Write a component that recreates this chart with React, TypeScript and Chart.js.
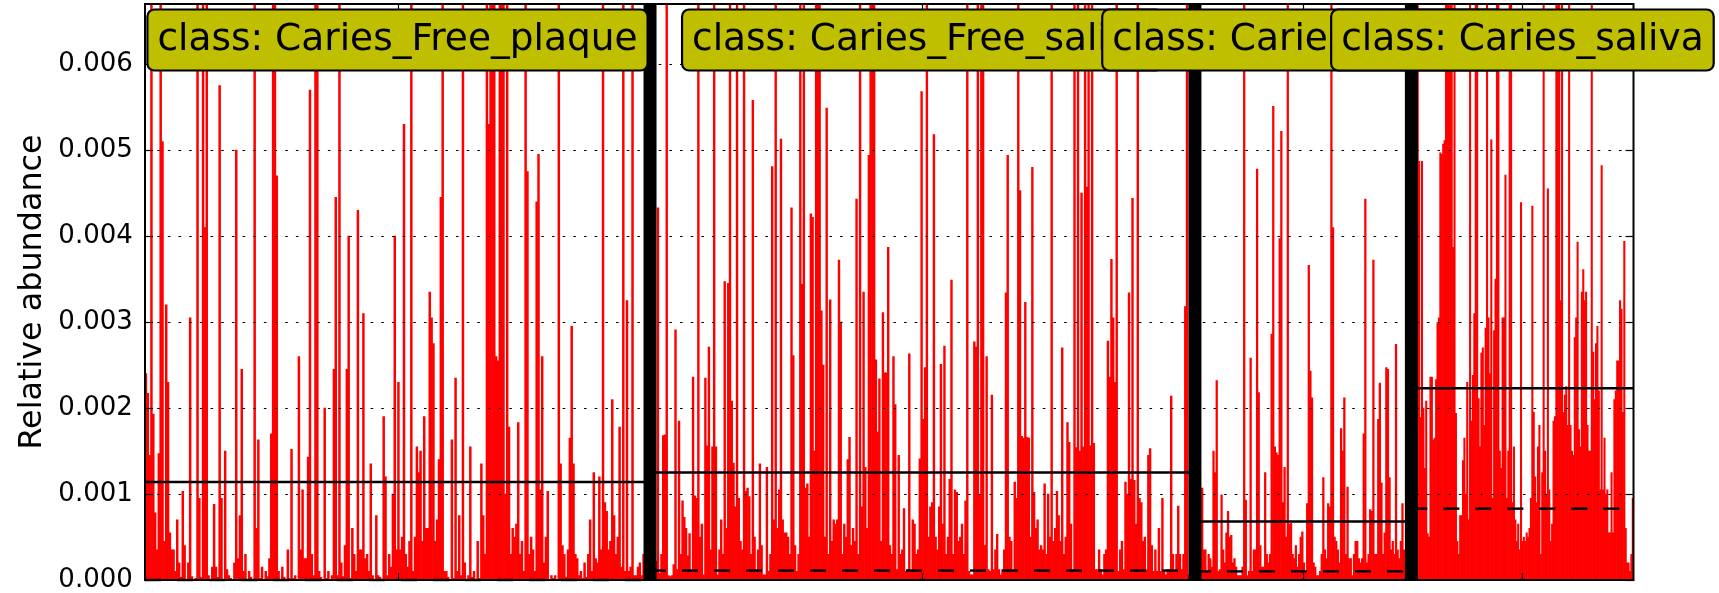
import React, { useEffect, useRef } from "react";
import { Chart, registerables } from "chart.js";

Chart.register(...registerables);

// ---- data ----
const classNames = ["Caries_Free_plaque", "Caries_Free_saliva", "Caries_plaque", "Caries_saliva"];
// width of each class block on the x axis, in sample slots
const classSpans = [266, 287, 114, 117];
const classMeans = [0.00114, 0.00125, 0.00068, 0.00223];
const classMedians = [0, 0.00011, 0.0001, 0.00083];

const yMax = 0.0067;
const yTickValues = [0, 0.001, 0.002, 0.003, 0.004, 0.005, 0.006];
const yTickLabels = ["0.000", "0.001", "0.002", "0.003", "0.004", "0.005", "0.006"];
const yTitle = "Relative abundance";

const cariesFreePlaque = [
  .0024,.00217,.00145,.009,.00193,.00078,.00035,.00147,.009,.0051,
  .00045,.0032,.0023,.00055,.00035,.00035,.0001,.0007,.0002,.00003,
  .00103,.0004,0,.0002,.00305,.00004,0,.00002,.009,.00095,
  .00003,.009,.0041,.009,.00005,0,.00015,.00088,.00015,.00003,
  .00575,.00095,0,.0015,.00012,.00005,.00002,0,.0002,.005,
  .00025,.00075,.00245,.0001,.0003,0,.0001,.00003,0,.009,
  .0006,.00163,.00002,.00015,0,.0001,.00004,.00025,.0017,.009,
  .009,.0047,.0001,0,.00015,.00003,0,.00035,.00002,.00152,
  .00002,.00005,0,.0026,.00035,.00105,.00025,.00025,.00143,.0057,
  .0003,.00005,.009,.009,.0001,.00003,0,.002,.00002,.0001,
  0,.00005,.00245,.00445,.00005,.009,.0002,.00004,.0004,.00245,
  .004,.00002,.0006,.0003,.0001,.0043,.00035,.00035,.0031,.00025,
  .0003,.0001,.00135,.00005,0,.00075,.00005,.00003,0,.0019,
  .0012,.00005,.0003,.00015,.001,.004,.00035,.0023,.00035,.0005,
  .0053,.0003,.00015,.00045,.009,.0001,.0005,.00155,.00125,.0015,
  .00045,.0019,.0006,.0006,.00335,.00305,.00275,.00045,.0007,.0014,
  .00445,.009,.0001,.0001,.00003,0,.00163,.00002,.00235,.0001,
  .00075,.00005,.009,.0002,0,.00005,.00155,.00003,.0001,0,
  .00045,.00002,.00135,.00075,.0003,.009,.0053,.009,.009,.009,
  .0026,.00255,.009,.009,.009,.001,.009,.00178,.0003,.0006,
  .0005,.00065,.00183,.0003,.00045,.0001,.009,.00475,.0003,.0005,
  .00035,.0001,.0044,.00495,.00105,.0026,.0002,.0005,.00103,0,
  .00005,.00002,.00005,0,.009,.00135,.0004,.0003,.00003,.00035,
  .00165,.00295,.00135,.0003,.00025,.00005,.0001,.00002,.0002,.00003,
  .0003,.0007,.0001,.00125,.00025,.0002,.0012,.00035,.009,.0009,
  .0008,.00035,.00045,.0021,.00075,.0003,.0005,.00178,.00015,.009,
  .0001,.00325,.0001,.00015,.009,.00005,.00005,.00015,.0002,.00005,
  .0003,.00005,0,.009,
];

const cariesFreeSaliva = [
  .00012,.00096,.0001,.00022,.00433,.00008,.0003,.00168,.00169,.009,
  .00005,.00004,.00005,.00018,.00291,.00012,.00185,.0003,.00092,.00073,
  .0006,.00028,.00054,.0001,.00236,.00098,.00095,.009,.0005,.00065,
  .00006,.00235,.00156,.00271,.00035,.00155,.009,.00155,.00006,.00035,
  .0007,.0003,.00347,.0006,.00345,.009,.00208,.00136,.00085,.009,
  .00095,.00045,.00035,.009,.00103,.00107,.00097,.0003,.00558,.0005,
  .00012,.00035,.00135,.0004,.00006,.00006,.00131,.0001,.0003,.00481,
  .0007,.009,.0006,.00105,.00513,.0007,.00055,.00055,.0005,.0003,
  .00433,.00261,.0004,.0001,.0003,.009,.00344,.009,.00107,.00112,
  .0005,.00426,.00422,.0015,.009,.009,.009,.00313,.0025,.0005,
  .00549,.0003,.00326,.00045,.0007,.00065,.0007,.00372,.003,.0003,
  .00065,.0005,.0014,.00166,.0004,.0006,.00045,.00443,.0003,.009,
  .00085,.00335,.00131,.0006,.00494,.009,.009,.009,.00256,.00172,
  .00234,.00045,.00311,.00241,.00241,.00387,.0004,.0003,.0026,.00204,
  .00012,.00145,.0003,.00035,.00083,.0001,.00012,.00263,.0001,.0007,
  .00065,.0003,.00035,.00141,.00568,.00187,.00247,.009,.0005,.00085,
  .0009,.00518,.0005,.00035,.00085,.00251,.00065,.00272,.0003,.0005,
  .00117,.00349,.0003,.00105,.00102,.00045,.0005,.00065,.0003,.00092,
  .009,.0001,.00006,.00006,.00277,.00271,.009,.001,.009,.009,
  .0004,.0026,.00012,.0001,.00215,.00012,.00035,.00053,.00012,.00006,
  .00012,.00035,.00334,.00494,.0005,.00045,.00012,.00114,.00095,.009,
  .00453,.00167,.00165,.00323,.00166,.00165,.0005,.0048,.00102,.0006,
  .0007,.00035,.0004,.00035,.00112,.0003,.001,.0005,.009,.00045,
  .0006,.00103,.00075,.00045,.0027,.0003,.0005,.00183,.0016,.00065,
  .00012,.009,.00154,.009,.0015,.0045,.00155,.009,.00457,.009,
  .00156,.009,.00159,.00012,.00012,.00035,.00012,.00006,.0003,.00035,
  .00278,.00236,.00373,.00305,.0023,.009,.0001,.00035,.00045,.00012,
  .00114,.001,.00334,.00117,.00444,.00116,.00065,.009,.00095,.0009,
  .00045,.0005,.00012,.00145,.00153,.0004,.0001,.00035,.0001,.0006,
  .0001,.00095,.0001,.00006,.00012,.00012,.00214,.0003,.0001,.0003,
  .00086,.0003,.00012,.0003,.00318,.009,.00006,.00162,.0036,.0001,
];

const cariesPlaque = [
  .00025,.00005,.00005,.00035,.00107,.00035,.00035,.0001,.0003,.00025,
  .00015,.0015,.00125,.00232,.0001,.00012,.00099,.00035,.0002,.00055,
  .0008,.0005,.00052,.0002,.00025,.00015,.00005,.00005,.00005,.00015,
  .009,.00093,.00005,.0001,.00258,.0001,.00035,.00035,.00478,.00218,
  .0004,.00015,.00015,.00125,.0003,.0002,.0003,.00286,.00551,.00155,
  .00148,.00145,.00397,.00522,.0009,.00131,.0005,.009,.00065,.00066,
  .0003,.00025,.0004,.00015,.0003,.0005,.00056,.0002,.0001,.00089,
  .00366,.00243,.00212,.0002,.00015,.00005,.00005,.0001,.0003,.00119,
  .00035,.00025,.00089,.00085,.009,.0041,.0005,.00045,.00035,.0002,
  .00176,.0015,.00212,.0003,.00108,.00025,.00025,.00005,.0003,.00045,
  .00045,.00025,.0002,.00025,.0017,.00443,.0002,.0003,.00082,.0008,
  .00372,.0003,.0003,.00187,.00229,.00113,.0003,.00055,.00247,.00245,
  .00119,.00035,.00045,.0003,.00274,.00035,.00025,.00045,.00089,.00035,
  .0002,.0002,.0003,.00079,
];

const cariesSaliva = [
  .00015,.0059,.00286,.00287,.009,.00487,.00189,.00487,.002,.0013,
  .00208,.00054,.0005,.00236,.00236,.00163,.00165,.00233,.00299,.00305,
  .00497,.00495,.00507,.00511,.009,.009,.009,.009,.009,.00387,
  .009,.00194,.00045,.0003,.00075,.00075,.00139,.00165,.001,.0023,
  .0007,.009,.00185,.00238,.0031,.009,.009,.00211,.00155,.00264,
  .0027,.0018,.00293,.009,.00305,.0024,.00512,.00095,.0029,.0035,
  .009,.009,.0015,.0013,.00305,.00305,.00471,.00095,.0015,.009,
  .009,.0009,.00155,.0007,.00045,.00065,.00035,.00439,.00045,.0005,
  .00045,.00055,.0005,.0006,.00095,.00435,.00195,.0012,.0009,.00155,
  .0018,.0003,.00125,.009,.0015,.001,.00455,.00105,.00045,.00065,
  .00185,.0019,.009,.009,.009,.00325,.009,.00195,.00215,.00225,
  .0018,.009,.0018,.0015,.00145,.00282,.00305,.00393,.00175,.00155,
  .00335,.00361,.00325,.00335,.0018,.0015,.0015,.009,.00265,.0021,
  .00275,.00295,.0022,.00105,.00482,.00105,.00165,.001,.00105,.00055,
  .00055,.00125,.00055,.0021,.0022,.00255,.00255,.00325,.00315,.00195,
  .00394,.0006,.0002,.0002,.0001,.0003,.00095,
];

const classValues = [cariesFreePlaque, cariesFreeSaliva, cariesPlaque, cariesSaliva];

export default function App() {
  const ref = useRef<HTMLCanvasElement>(null);

  useEffect(() => {
    const canvas = ref.current;
    if (!canvas) return;
    Chart.defaults.font.family = "'DejaVu Sans'";

    const points: { x: number; y: number }[] = [];
    const offsets: number[] = [];
    let off = 0;
    classValues.forEach((vals, c) => {
      offsets.push(off);
      const step = classSpans[c] / vals.length;
      vals.forEach((v, i) => points.push({ x: off + (i + 0.5) * step, y: v }));
      off += classSpans[c];
    });
    const total = off;

    const overlay = {
      id: "lefseOverlay",
      afterDraw(chart: any) {
        const { ctx, chartArea: a, scales } = chart;
        const xs = scales.x;
        const ys = scales.y;
        const seg = (x0: number, y0: number, x1: number, y1: number) => {
          ctx.beginPath();
          ctx.moveTo(x0, y0);
          ctx.lineTo(x1, y1);
          ctx.stroke();
        };
        ctx.save();
        ctx.strokeStyle = "#000";
        // dotted horizontal grid, drawn above the bars
        ctx.lineWidth = 1.2;
        ctx.setLineDash([2.6, 8.07]);
        ctx.lineDashOffset = -1.5;
        yTickValues.forEach((v) => {
          if (v === 0) return;
          const y = Math.round(ys.getPixelForValue(v)) + 0.5;
          seg(a.left, y, a.right, y);
        });
        // class mean (solid) and median (dashed)
        ctx.lineWidth = 2.4;
        offsets.forEach((o, c) => {
          const x0 = xs.getPixelForValue(o);
          const x1 = xs.getPixelForValue(o + classSpans[c]);
          ctx.setLineDash([]);
          const ym = ys.getPixelForValue(classMeans[c]);
          seg(x0, ym, x1, ym);
          ctx.setLineDash([16, 16]);
          ctx.lineDashOffset = 0;
          const yd = ys.getPixelForValue(classMedians[c]);
          seg(x0, yd, x1, yd);
        });
        ctx.setLineDash([]);
        // thick class separators
        ctx.fillStyle = "#000";
        for (let c = 1; c < offsets.length; c++) {
          const xb = xs.getPixelForValue(offsets[c]);
          ctx.fillRect(xb - 6.5, a.top, 13, a.bottom - a.top);
        }
        // frame
        ctx.lineWidth = 2;
        ctx.strokeRect(a.left, a.top, a.right - a.left, a.bottom - a.top);
        // inward ticks
        ctx.lineWidth = 1.2;
        yTickValues.forEach((v) => {
          const y = Math.round(ys.getPixelForValue(v)) + 0.5;
          seg(a.left, y, a.left + 8, y);
          seg(a.right - 8, y, a.right, y);
        });
        offsets.forEach((o, c) => {
          const xm = Math.round(xs.getPixelForValue(o + classSpans[c] / 2)) + 0.5;
          seg(xm, a.bottom, xm, a.bottom - 7);
          seg(xm, a.top, xm, a.top + 7);
        });
        // class labels
        ctx.font = "37.5px 'DejaVu Sans'";
        ctx.textAlign = "center";
        ctx.textBaseline = "alphabetic";
        classNames.forEach((n, c) => {
          const text = "class: " + n;
          const cx = xs.getPixelForValue(offsets[c] + classSpans[c] / 2);
          const w = ctx.measureText(text).width + 20;
          const bx = cx - w / 2;
          const by = a.top + 5.5;
          ctx.beginPath();
          ctx.roundRect(bx, by, w, 61, 7);
          ctx.fillStyle = "#bfbf00";
          ctx.fill();
          ctx.lineWidth = 2.2;
          ctx.strokeStyle = "#000";
          ctx.stroke();
          ctx.fillStyle = "#000";
          ctx.fillText(text, cx, by + 40.5);
        });
        // y-axis title
        ctx.save();
        ctx.translate(41, (a.top + a.bottom) / 2);
        ctx.rotate(-Math.PI / 2);
        ctx.font = "31.8px 'DejaVu Sans'";
        ctx.fillStyle = "#000";
        ctx.textAlign = "center";
        ctx.textBaseline = "alphabetic";
        ctx.fillText(yTitle, 0, 0);
        ctx.restore();
        ctx.restore();
      },
    };

    const chart = new Chart(canvas, {
      type: "bar",
      data: {
        datasets: [
          {
            data: points as any,
            backgroundColor: "#ff0000",
            borderWidth: 0,
            barPercentage: 1,
            categoryPercentage: 1,
            barThickness: "flex",
          } as any,
        ],
      },
      options: {
        animation: false,
        responsive: false,
        events: [],
        layout: { padding: { left: 0, top: 4, right: 85.5, bottom: 13 } },
        plugins: { legend: { display: false }, tooltip: { enabled: false } },
        scales: {
          x: { type: "linear", min: 0, max: total, offset: false, display: false },
          y: {
            min: 0,
            max: yMax,
            afterBuildTicks: (s: any) => {
              s.ticks = yTickValues.map((v) => ({ value: v }));
            },
            afterFit: (s: any) => {
              s.width = 145;
              s.paddingTop = 0;
              s.paddingBottom = 0;
            },
            grid: { display: false, drawTicks: false },
            border: { display: false },
            ticks: {
              padding: 12.2,
              color: "#000",
              font: { family: "'DejaVu Sans'", size: 26 },
              callback: (_v: any, i: number) => yTickLabels[i],
            },
          },
        },
      } as any,
      plugins: [overlay],
    });
    return () => chart.destroy();
  }, []);

  return (
    <div style={{ position: "absolute", left: 0, top: 0, width: 1719, height: 593, background: "#fff" }}>
      <canvas ref={ref} width={1719} height={593} style={{ display: "block" }} />
    </div>
  );
}
